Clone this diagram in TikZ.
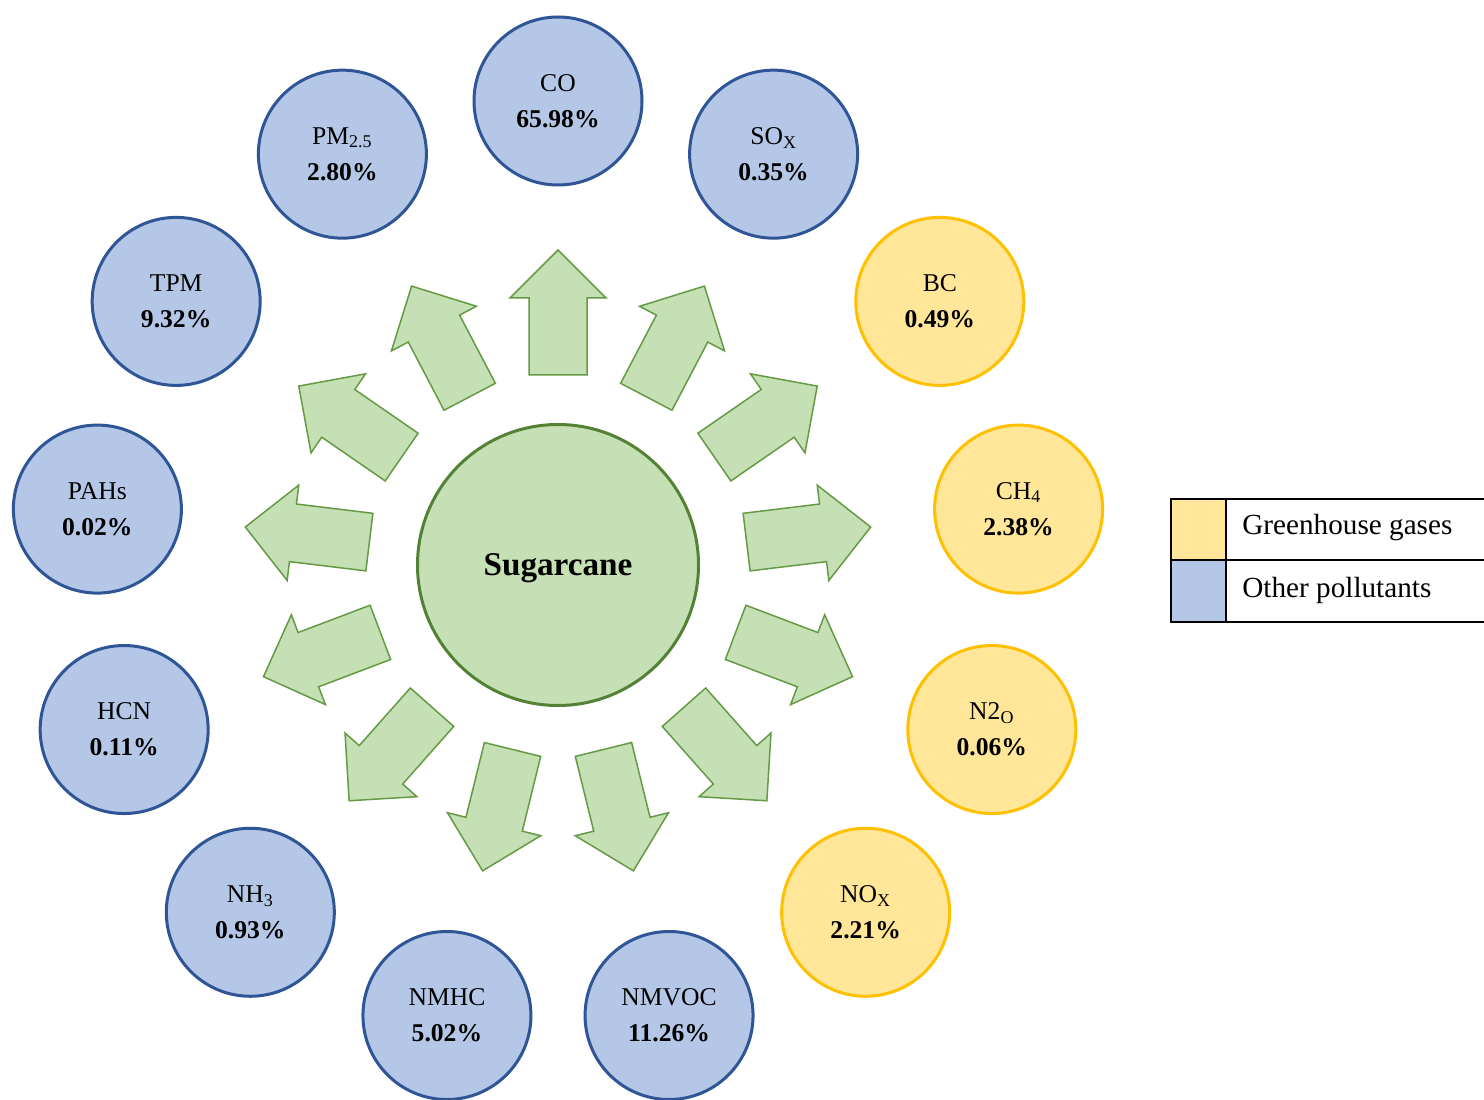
\documentclass[tikz,border=0pt]{standalone}
\usepackage{fontspec}
\setmainfont{Liberation Serif}
\usetikzlibrary{calc}
\definecolor{bfill}{HTML}{B4C7E7}
\definecolor{bline}{HTML}{2F5597}
\definecolor{yfill}{HTML}{FFE699}
\definecolor{yline}{HTML}{FFC000}
\definecolor{gfill}{HTML}{C5E0B4}
\definecolor{gline}{HTML}{548235}
\definecolor{aline}{HTML}{659A45}
\begin{document}
\begin{tikzpicture}[x=0.5pt,y=0.5pt,
  pollutant/.style={circle, minimum size=84pt, inner sep=0pt, line width=1.5pt, align=center, font=\fontsize{12.8}{18}\selectfont},
  other/.style={pollutant, draw=bline, fill=bfill},
  ghg/.style={pollutant, draw=yline, fill=yfill},
  flow/.style={fill=gfill, draw=aline, line width=0.75pt, line join=miter},
  legendtext/.style={anchor=west, inner sep=0pt, font=\fontsize{14.6}{17}\selectfont},
  ]
\clip (0,0) rectangle (1484,1099);
\fill[white] (0,0) rectangle (1484,1099);
% centre
\node[circle, minimum size=140.5pt, inner sep=0pt, draw=gline, fill=gfill, line width=1.5pt, text depth=0pt,
      font=\fontsize{16.6}{20}\selectfont\bfseries] (src) at (558,534) {Sugarcane};
% block arrows
\foreach \i in {0,...,12}{
  \pgfmathsetmacro{\t}{90-\i*360/13}
  \begin{scope}[shift={(558,534)}, rotate=\t]
    \draw[flow] (190,29) -- (267,29) -- (267,48) -- (315,0) -- (267,-48) -- (267,-29) -- (190,-29) -- cycle;
  \end{scope}
}
% pollutant circles
\node[other] (co)    at ($(src)+(90:464)$)      {CO\\\textbf{65.98\%}};
\node[other] (sox)   at ($(src)+(62.31:464)$)   {SO\textsubscript{X}\\\textbf{0.35\%}};
\node[ghg]   (bc)    at ($(src)+(34.62:464)$)   {BC\\\textbf{0.49\%}};
\node[ghg]   (ch4)   at ($(src)+(6.92:464)$)    {CH\textsubscript{4}\\\textbf{2.38\%}};
\node[ghg]   (n2o)   at ($(src)+(-20.77:464)$)  {N2\textsubscript{O}\\\textbf{0.06\%}};
\node[ghg]   (nox)   at ($(src)+(-48.46:464)$)  {NO\textsubscript{X}\\\textbf{2.21\%}};
\node[other] (nmvoc) at ($(src)+(-76.15:464)$)  {NMVOC\\\textbf{11.26\%}};
\node[other] (nmhc)  at ($(src)+(-103.85:464)$) {NMHC\\\textbf{5.02\%}};
\node[other] (nh3)   at ($(src)+(-131.54:464)$) {NH\textsubscript{3}\\\textbf{0.93\%}};
\node[other] (hcn)   at ($(src)+(-159.23:464)$) {HCN\\\textbf{0.11\%}};
\node[other] (pahs)  at ($(src)+(173.08:464)$)  {PAHs\\\textbf{0.02\%}};
\node[other] (tpm)   at ($(src)+(145.38:464)$)  {TPM\\\textbf{9.32\%}};
\node[other] (pm)    at ($(src)+(117.69:464)$)  {PM\textsubscript{2.5}\\\textbf{2.80\%}};
% legend
\fill[yfill] (1171,539) rectangle (1226,600);
\fill[bfill] (1171,477) rectangle (1226,539);
\draw[line width=1pt] (1500,600) -- (1171,600) -- (1171,477) -- (1500,477);
\draw[line width=1pt] (1171,539) -- (1500,539);
\draw[line width=1pt] (1226,600) -- (1226,477);
\node[legendtext] (lg1) at (1242,571) {Greenhouse gases};
\node[legendtext] (lg2) at (1242,509) {Other pollutants};
\end{tikzpicture}
\end{document}
